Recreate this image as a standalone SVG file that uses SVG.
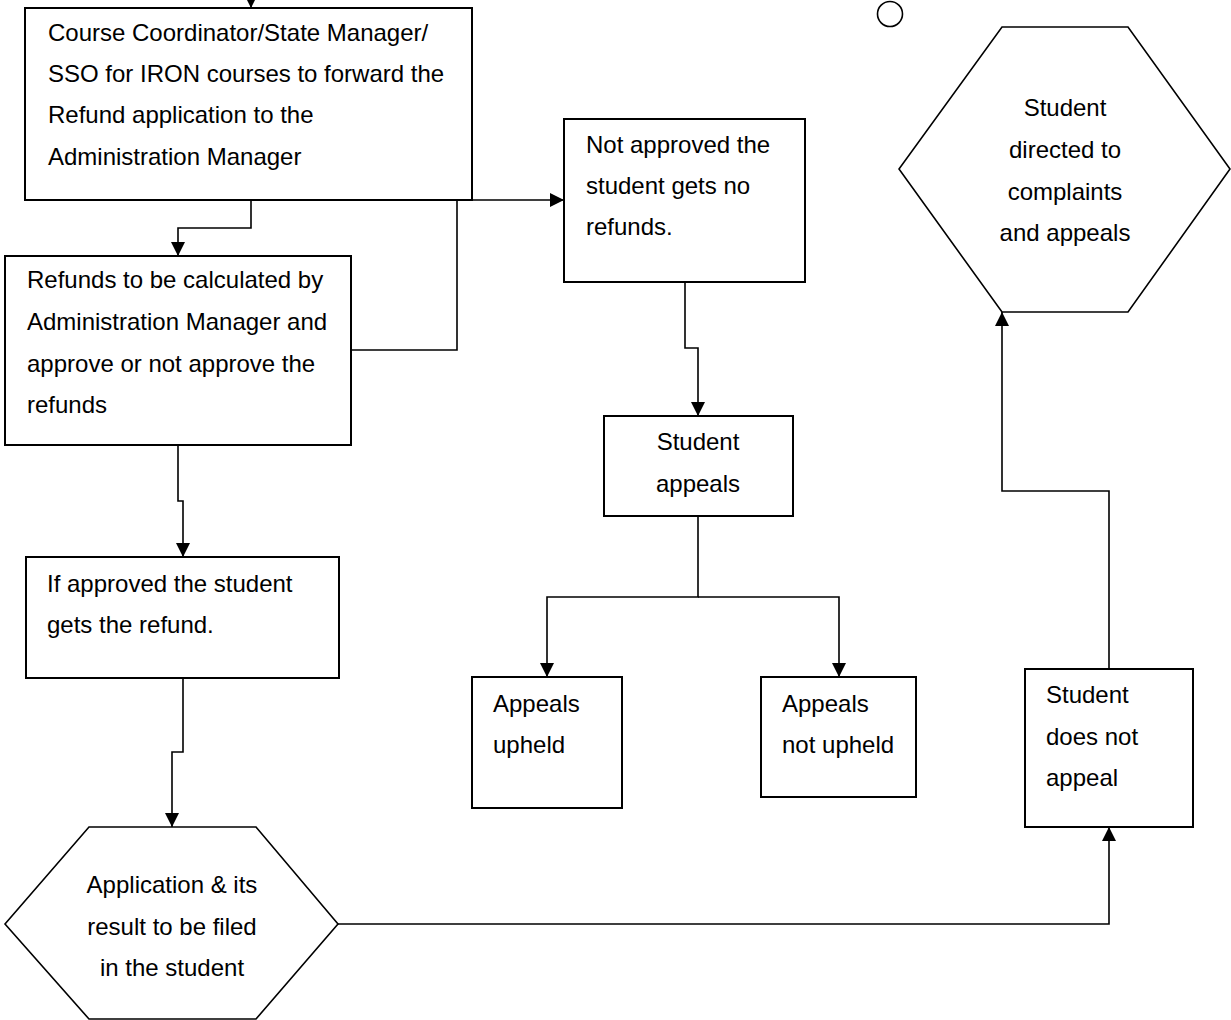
<svg xmlns="http://www.w3.org/2000/svg" width="1231" height="1020" viewBox="0 0 1231 1020">
<style>
.box{fill:#fff;stroke:#000;stroke-width:2}
.hex{fill:#fff;stroke:#000;stroke-width:1.6}
.t{font-family:"Liberation Sans",Arial,sans-serif;font-size:24px;fill:#000}
.c{text-anchor:middle}
.ln{fill:none;stroke:#000;stroke-width:1.6}
</style>
<defs>
<marker id="arr" viewBox="0 0 14 14" refX="14" refY="7" markerWidth="14" markerHeight="14" markerUnits="userSpaceOnUse" orient="auto">
<path d="M0,0 L14,7 L0,14 z" fill="#000"/>
</marker>
</defs>
<rect width="1231" height="1020" fill="#fff"/>
<g id="connectors">
<path class="ln" d="M251,0 L251,8" marker-end="url(#arr)"/>
<path class="ln" d="M251,200 L251,228 L178,228 L178,256" marker-end="url(#arr)"/>
<path class="ln" d="M351,350 L457,350 L457,200 L564,200" marker-end="url(#arr)"/>
<path class="ln" d="M178,445 L178,501 L183,501 L183,557" marker-end="url(#arr)"/>
<path class="ln" d="M183,678 L183,752 L172,752 L172,827" marker-end="url(#arr)"/>
<path class="ln" d="M685,282 L685,348 L698,348 L698,416" marker-end="url(#arr)"/>
<path class="ln" d="M698,516 L698,597 L547,597 L547,677" marker-end="url(#arr)"/>
<path class="ln" d="M698,597 L839,597 L839,677" marker-end="url(#arr)"/>
<path class="ln" d="M338,924 L1109,924 L1109,827" marker-end="url(#arr)"/>
<path class="ln" d="M1109,669 L1109,491 L1002,491 L1002,312" marker-end="url(#arr)"/>
</g>
<g id="node-forward">
<rect class="box" x="25" y="8" width="447" height="192"/>
<text class="t" x="48" y="41">Course Coordinator/State Manager/</text>
<text class="t" x="48" y="82">SSO for IRON courses to forward the</text>
<text class="t" x="48" y="123">Refund application to the</text>
<text class="t" x="48" y="165">Administration Manager</text>
</g>
<g id="node-calculate">
<rect class="box" x="5" y="256" width="346" height="189"/>
<text class="t" x="27" y="288">Refunds to be calculated by</text>
<text class="t" x="27" y="330">Administration Manager and</text>
<text class="t" x="27" y="372">approve or not approve the</text>
<text class="t" x="27" y="413">refunds</text>
</g>
<g id="node-approved">
<rect class="box" x="26" y="557" width="313" height="121"/>
<text class="t" x="47" y="592">If approved the student</text>
<text class="t" x="47" y="633">gets the refund.</text>
</g>
<g id="node-filed">
<polygon class="hex" points="89,827 256,827 338,924 256,1019 89,1019 5,924"/>
<text class="t c" x="172" y="893">Application &amp; its</text>
<text class="t c" x="172" y="935">result to be filed</text>
<text class="t c" x="172" y="976">in the student</text>
</g>
<g id="node-not-approved">
<rect class="box" x="564" y="119" width="241" height="163"/>
<text class="t" x="586" y="153">Not approved the</text>
<text class="t" x="586" y="194">student gets no</text>
<text class="t" x="586" y="235">refunds.</text>
</g>
<g id="node-student-appeals">
<rect class="box" x="604" y="416" width="189" height="100"/>
<text class="t c" x="698" y="450">Student</text>
<text class="t c" x="698" y="492">appeals</text>
</g>
<g id="node-upheld">
<rect class="box" x="472" y="677" width="150" height="131"/>
<text class="t" x="493" y="712">Appeals</text>
<text class="t" x="493" y="753">upheld</text>
</g>
<g id="node-not-upheld">
<rect class="box" x="761" y="677" width="155" height="120"/>
<text class="t" x="782" y="712">Appeals</text>
<text class="t" x="782" y="753">not upheld</text>
</g>
<g id="node-not-appeal">
<rect class="box" x="1025" y="669" width="168" height="158"/>
<text class="t" x="1046" y="703">Student</text>
<text class="t" x="1046" y="745">does not</text>
<text class="t" x="1046" y="786">appeal</text>
</g>
<g id="node-complaints">
<polygon class="hex" points="1002,27 1128,27 1230,169 1128,312 1002,312 899,169"/>
<text class="t c" x="1065" y="116">Student</text>
<text class="t c" x="1065" y="158">directed to</text>
<text class="t c" x="1065" y="200">complaints</text>
<text class="t c" x="1065" y="241">and appeals</text>
</g>
<g id="node-circle">
<circle cx="890" cy="14" r="12.5" fill="#fff" stroke="#000" stroke-width="1.6"/>
</g>
</svg>
